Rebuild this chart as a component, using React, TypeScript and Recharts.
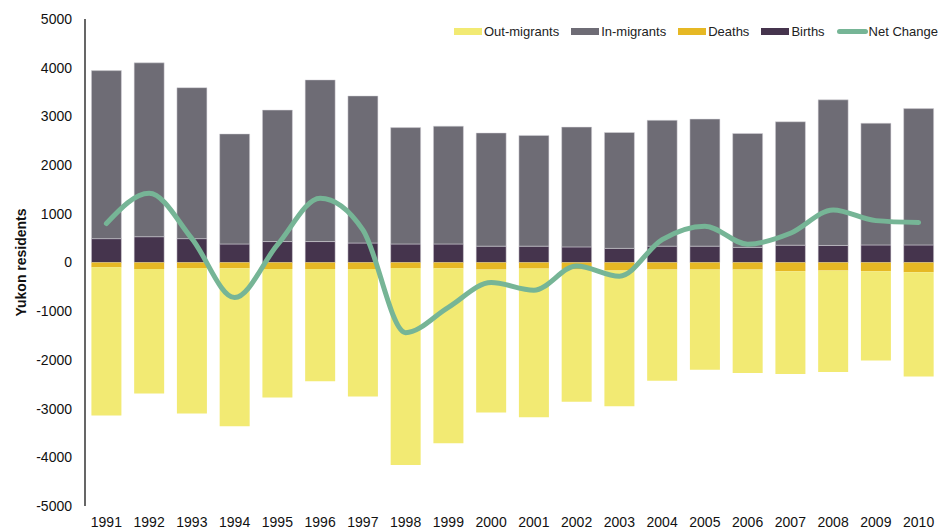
import React from "react";
import { ComposedChart, Bar, Line, XAxis, YAxis } from "recharts";

const years = [
  "1991", "1992", "1993", "1994", "1995", "1996", "1997", "1998", "1999", "2000",
  "2001", "2002", "2003", "2004", "2005", "2006", "2007", "2008", "2009", "2010",
];
const births = [490, 530, 490, 380, 430, 430, 400, 380, 380, 335, 335, 320, 290, 335, 335, 310, 355, 350, 360, 360];
const inMigrants = [3450, 3570, 3100, 2260, 2700, 3320, 3020, 2390, 2420, 2325, 2275, 2460, 2380, 2585, 2610, 2340, 2535, 2990, 2500, 2800];
const deaths = [-100, -135, -115, -120, -135, -135, -135, -115, -120, -145, -125, -145, -165, -145, -145, -145, -180, -165, -180, -200];
const outMigrants = [-3040, -2555, -2985, -3240, -2635, -2305, -2615, -4045, -3590, -2935, -3055, -2715, -2785, -2285, -2055, -2125, -2110, -2085, -1830, -2140];
const netChange = [800, 1420, 490, -720, 360, 1320, 670, -1440, -920, -410, -570, -70, -280, 470, 745, 375, 600, 1080, 860, 820];
const yTicks = [-5000, -4000, -3000, -2000, -1000, 0, 1000, 2000, 3000, 4000, 5000];

const colors = {
  out: "#F2EA73",
  inm: "#6E6C75",
  deaths: "#E6B824",
  births: "#45344D",
  net: "#76B596",
};

const data = years.map((y, i) => ({
  year: y,
  births: births[i],
  inMigrants: inMigrants[i],
  deaths: deaths[i],
  outMigrants: outMigrants[i],
  net: netChange[i],
}));

const legendItems = [
  { label: "Out-migrants", color: colors.out, line: false },
  { label: "In-migrants", color: colors.inm, line: false },
  { label: "Deaths", color: colors.deaths, line: false },
  { label: "Births", color: colors.births, line: false },
  { label: "Net Change", color: colors.net, line: true },
];

const font = "'Liberation Sans', Arial, sans-serif";

// legend drawn by hand, placed over the chart so it doesn't eat plot space
const ChartLegend = () => (
  <div
    style={{
      position: "absolute",
      top: 24,
      right: 10,
      display: "flex",
      alignItems: "center",
      fontFamily: font,
      fontSize: 13,
      color: "#222",
    }}
  >
    {legendItems.map((it) => (
      <div key={it.label} style={{ display: "flex", alignItems: "center", marginLeft: 12 }}>
        {it.line ? (
          <div style={{ width: 31, height: 5, borderRadius: 3, background: it.color, marginRight: 1 }} />
        ) : (
          <div style={{ width: 28, height: 7, background: it.color, marginRight: 2 }} />
        )}
        <span>{it.label}</span>
      </div>
    ))}
  </div>
);

export default function App() {
  return (
    <div style={{ position: "fixed", left: 0, top: 0, width: 948, height: 529, background: "#fff" }}>
      <ComposedChart
        width={948}
        height={529}
        data={data}
        stackOffset="sign"
        barCategoryGap="15%"
        margin={{ top: 19, right: 8, bottom: 0, left: 0 }}
      >
        <XAxis
          dataKey="year"
          axisLine={false}
          tickLine={false}
          tickMargin={5}
          height={23}
          tick={{ fontSize: 14, fill: "#111", fontFamily: font }}
          interval={0}
        />
        <YAxis
          domain={[-5000, 5000]}
          ticks={yTicks}
          width={85}
          axisLine={{ stroke: "#000", strokeWidth: 1.2 }}
          tickLine={false}
          tickMargin={7}
          tick={{ fontSize: 14, fill: "#111", fontFamily: font }}
          allowDataOverflow
          label={{
            value: "Yukon residents",
            angle: -90,
            position: "insideLeft",
            dx: 16,
            style: { fontSize: 14, fontWeight: 700, fill: "#111", fontFamily: font, textAnchor: "middle" },
          }}
        />
        <Bar dataKey="births" stackId="a" fill={colors.births} stroke="#d8d6dc" strokeWidth={0.5} isAnimationActive={false} />
        <Bar dataKey="inMigrants" stackId="a" fill={colors.inm} stroke="#d8d6dc" strokeWidth={0.5} isAnimationActive={false} />
        <Bar dataKey="deaths" stackId="a" fill={colors.deaths} isAnimationActive={false} />
        <Bar dataKey="outMigrants" stackId="a" fill={colors.out} isAnimationActive={false} />
        <Line
          type="monotone"
          dataKey="net"
          stroke={colors.net}
          strokeWidth={5}
          strokeLinecap="round"
          dot={false}
          activeDot={false}
          isAnimationActive={false}
        />
      </ComposedChart>
      <ChartLegend />
    </div>
  );
}
